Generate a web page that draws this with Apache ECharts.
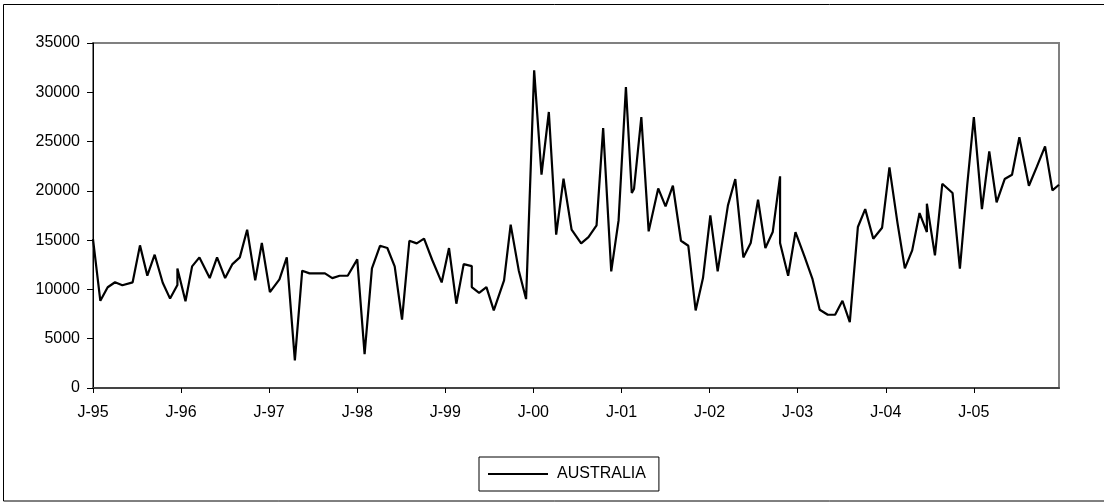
<!DOCTYPE html>
<html>
<head>
<meta charset="utf-8">
<script src="https://cdn.jsdelivr.net/npm/echarts@6/dist/echarts.min.js"></script>
<style>
html,body{margin:0;padding:0;background:#fff;}
#chart{width:1104px;height:504px;}
</style>
</head>
<body>
<div id="chart"></div>
<script>
// Months since January 1995 (repeated values = two readings in the same month)
var monthOffsets = [
  0.0, 1.0, 2.0, 3.0, 4.0, 5.4, 6.4, 7.4, 8.4, 9.5, 10.5, 11.5, 11.5, 12.6, 13.5, 14.5,
  15.9, 16.9, 18.0, 19.0, 20.0, 21.0, 22.1, 23.0, 24.1, 25.4, 26.4, 27.5, 28.5, 29.5,
  30.5, 31.6, 32.6, 33.6, 34.7, 36.0, 37.0, 38.0, 39.1, 40.1, 41.1, 42.1, 43.1, 44.1,
  45.1, 46.2, 47.5, 48.5, 49.5, 50.5, 51.6, 51.6, 52.6, 53.6, 54.6, 56.0, 56.9, 58.0,
  59.0, 60.1, 61.1, 62.1, 63.1, 64.1, 65.2, 66.5, 67.5, 68.6, 69.5, 70.6, 71.6, 72.6,
  73.4, 73.7, 74.7, 75.7, 77.0, 78.0, 79.0, 80.1, 81.1, 82.1, 83.1, 84.1, 85.1, 86.5,
  87.5, 88.6, 89.6, 90.6, 91.6, 92.6, 93.6, 93.6, 94.7, 95.7, 96.9, 98.0, 99.0, 100.1,
  101.1, 102.1, 103.1, 104.2, 105.2, 106.3, 107.5, 108.5, 109.6, 110.6, 111.6, 112.6,
  113.6, 113.6, 114.7, 115.7, 117.1, 118.1, 119.1, 120.0, 121.1, 122.1, 123.1, 124.2,
  125.2, 126.2, 127.5, 128.6, 129.7, 130.7, 131.6
];
var australia = [
  15100, 8850, 10220, 10730, 10430, 10720, 14470, 11400, 13520, 10680, 9070, 10440, 12120, 8800, 12340, 13250,
  11150, 13250, 11150, 12570, 13250, 16060, 10920, 14710, 9730, 11020, 13250, 2800, 11900, 11630,
  11630, 11630, 11150, 11390, 11390, 13050, 3440, 12130, 14430, 14200, 12340, 6930, 14940, 14670,
  15150, 13010, 10710, 14200, 8550, 12570, 12370, 10240, 9660, 10240, 7870, 10920, 16570, 11930,
  9020, 32220, 21640, 28000, 15550, 21230, 16060, 14670, 15310, 16500, 26370, 11830, 17000, 30530,
  19780, 20180, 27490, 15890, 20250, 18430, 20520, 14940, 14430, 7870, 11150, 17510, 11830, 18530,
  21200, 13250, 14710, 19100, 14200, 15820, 21470, 14710, 11390, 15820, 13400, 11100, 7940, 7430,
  7430, 8850, 6690, 16330, 18150, 15140, 16260, 22380, 16730, 12130, 13960, 17750,
  15820, 18700, 13450, 20720, 19780, 12100, 20620, 27490, 18150, 24000, 18830, 21200,
  21640, 25430, 20520, 22480, 24510, 20050, 20620
];
var xTickLabels = ['J-95','J-96','J-97','J-98','J-99','J-00','J-01','J-02','J-03','J-04','J-05'];
var seriesName = 'AUSTRALIA';

var tickMonths = xTickLabels.map(function (l, i) { return i * 12; });
var points = monthOffsets.map(function (m, i) { return [m, australia[i]]; });

var chart = echarts.init(document.getElementById('chart'), null, {renderer: 'canvas'});
var font = 'Liberation Sans, Arial, sans-serif';
chart.setOption({
  animation: false,
  backgroundColor: '#fff',
  graphic: [{
    type: 'rect', silent: true, z: 100,
    shape: {x: 3.5, y: 4.5, width: 1200, height: 496.5},
    style: {fill: 'none', stroke: '#000', lineWidth: 1}
  }],
  grid: {
    left: 93, right: 45, top: 43, bottom: 116,
    show: true, borderColor: '#808080', borderWidth: 2, backgroundColor: 'transparent'
  },
  legend: {
    data: [{name: seriesName, icon: 'rect'}],
    left: 479, top: 457,
    padding: [9, 13, 9, 9],
    borderColor: '#000', borderWidth: 1,
    itemWidth: 60, itemHeight: 2,
    itemStyle: {color: '#000'},
    textStyle: {fontFamily: font, fontSize: 16, color: '#000', padding: [0, 0, 0, 4]}
  },
  xAxis: {
    type: 'value', min: 0, max: 131.6, interval: 12,
    axisLine: {show: true, onZero: false, lineStyle: {color: '#444', width: 2}},
    axisTick: {show: true, length: 5, customValues: tickMonths, lineStyle: {color: '#000', width: 1}},
    axisLabel: {
      customValues: tickMonths, margin: 17,
      fontFamily: font, fontSize: 16, color: '#000',
      formatter: function (v) { return xTickLabels[Math.round(v / 12)]; }
    },
    splitLine: {show: false}
  },
  yAxis: {
    type: 'value', min: 0, max: 35000, interval: 5000,
    axisLine: {show: true, lineStyle: {color: '#000', width: 1}},
    axisTick: {show: true, length: 6, lineStyle: {color: '#000'}},
    axisLabel: {
      margin: 13, fontFamily: font, fontSize: 16, color: '#000',
      formatter: function (v) { return String(v); }
    },
    splitLine: {show: false}
  },
  series: [{
    name: seriesName, type: 'line', data: points,
    symbol: 'none', showSymbol: false,
    lineStyle: {color: '#000', width: 2.2},
    itemStyle: {color: '#000'}
  }]
});
</script>
</body>
</html>
